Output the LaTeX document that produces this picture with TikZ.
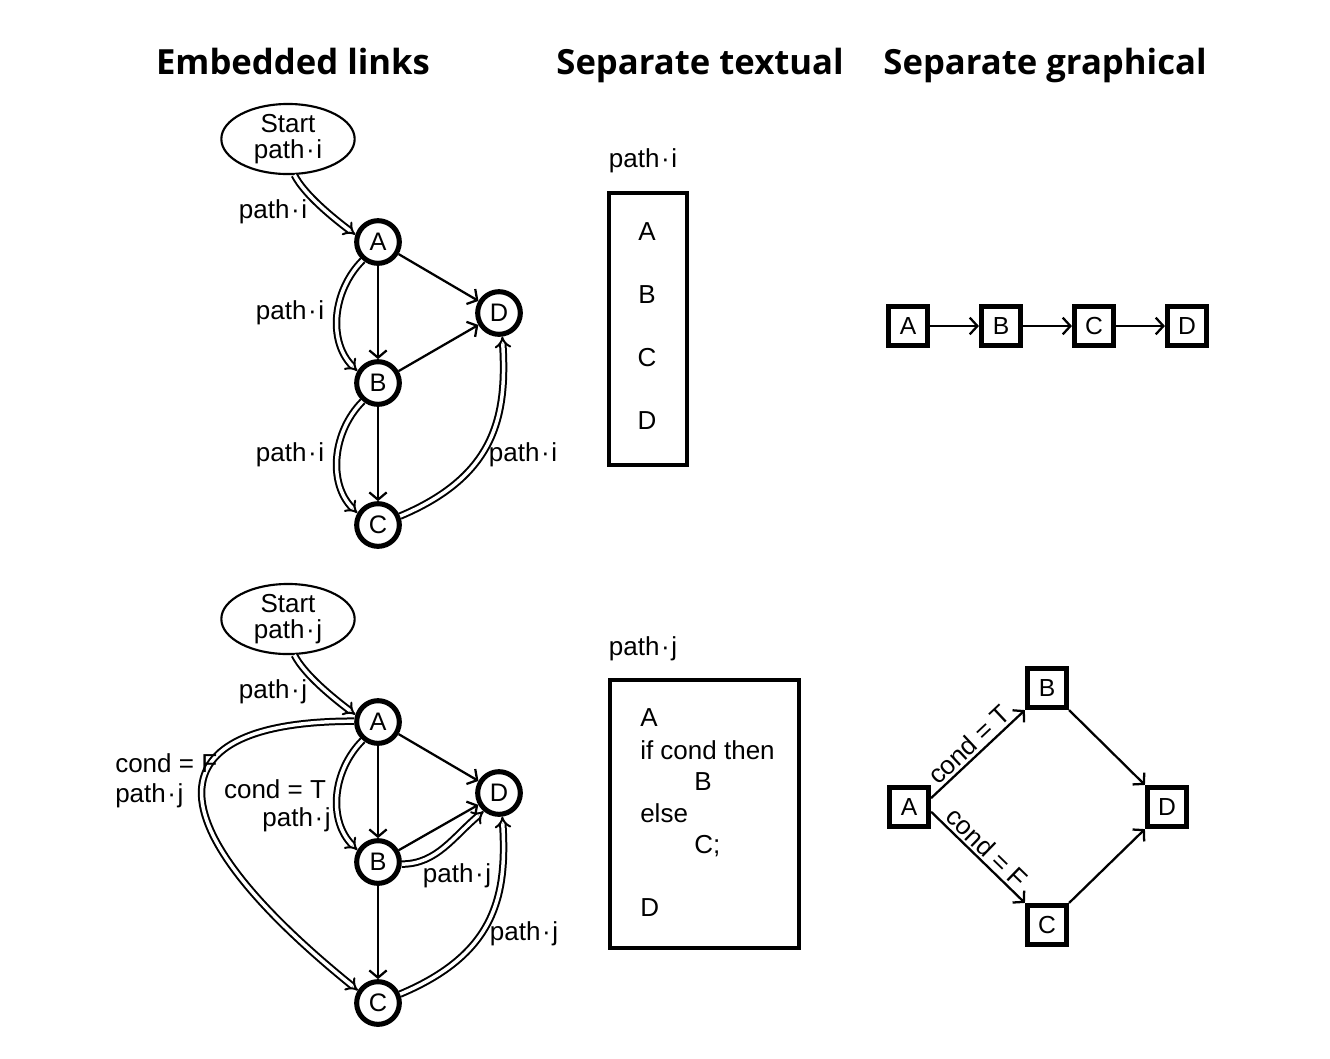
\documentclass[tikz,border=0pt]{standalone}
\usepackage{fontspec}
\setmainfont{Liberation Sans}
\newfontfamily\titlefont{Open Sans}
\usetikzlibrary{arrows.meta,shapes.geometric}
\newcommand{\pdot}{\kern1.2pt·\kern1.2pt}
\begin{document}
\begin{tikzpicture}[x=0.75pt,y=-0.75pt,
  ttl/.style={font=\titlefont\bfseries\fontsize{26}{30}\selectfont, inner sep=0pt, anchor=base},
  lbl/.style={font=\fontsize{19.5}{21}\selectfont, inner sep=0pt},
  vtx/.style={circle, draw, line width=3.8pt, minimum size=32pt, inner sep=0pt, font=\fontsize{19}{19}\selectfont},
  startnode/.style={ellipse, draw, line width=1.6pt, minimum width=100pt, minimum height=51pt, inner sep=0pt, align=center, font=\fontsize{19.5}{19.5}\selectfont},
  tarrow/.style={line width=1.7pt, -{Straight Barb[angle=100:8.5pt]}},
  dbl/.style={double=white, double distance=2.6pt, line width=1.5pt, -{Implies[scale=1.8]}},
  sqbox/.style={draw, line width=3.6pt, minimum size=29.5pt, inner sep=0pt, font=\fontsize{18.5}{18.5}\selectfont},
  tbox/.style={draw, line width=3pt, inner sep=0pt},
  gtip/.style={line width=1.7pt, -{Straight Barb[angle=95:8.5pt]}},
]
\useasboundingbox (0,0) rectangle (1330,1058);

% titles
\node[ttl] (t1) at (293,74) {Embedded links};
\node[ttl] (t2) at (700,74) {Separate textual};
\node[ttl] (t3) at (1045,74) {Separate graphical};

% ---------- top embedded graph ----------
\node[startnode] (S1) at (288,139) {Start\\path\pdot i};
\node[vtx] (A1) at (378,242) {A};
\node[vtx] (B1) at (378,383) {B};
\node[vtx] (C1) at (378,525) {C};
\node[vtx] (D1) at (499,313) {D};

\draw[tarrow] (A1) -- (D1);
\draw[tarrow] (A1) -- (B1);
\draw[tarrow] (B1) -- (D1);
\draw[tarrow] (B1) -- (C1);

\draw[dbl] (S1.280) .. controls +(10,20) and +(-20,-15) .. (A1.162);
\draw[dbl] (A1.230) .. controls +(-30,30) and +(-30,-30) .. (B1.150);
\draw[dbl] (B1.230) .. controls +(-30,30) and +(-30,-30) .. (C1.150);
\draw[dbl] (C1.22) .. controls +(95,-40) and +(5,80) .. (D1.278);

\node[lbl] (l1) at (273,212) {path\pdot i};
\node[lbl] (l2) at (290,313) {path\pdot i};
\node[lbl] (l3) at (290,455) {path\pdot i};
\node[lbl] (l4) at (523,455) {path\pdot i};

% ---------- bottom embedded graph ----------
\node[startnode] (S2) at (288,619) {Start\\path\pdot j};
\node[vtx] (A2) at (378,722) {A};
\node[vtx] (B2) at (378,862) {B};
\node[vtx] (C2) at (378,1003) {C};
\node[vtx] (D2) at (499,793) {D};

\draw[tarrow] (A2) -- (D2);
\draw[tarrow] (A2) -- (B2);
\draw[tarrow] (B2) -- (D2);
\draw[tarrow] (B2) -- (C2);

\draw[dbl] (S2.280) .. controls +(10,20) and +(-20,-15) .. (A2.162);
\draw[dbl] (A2.178) .. controls +(-200,0) and +(-210,-170) .. (C2.148);
\draw[dbl] (A2.230) .. controls +(-30,30) and +(-30,-30) .. (B2.150);
\draw[dbl] (B2.-5) .. controls +(35,0) and +(-30,25) .. (D2.230);
\draw[dbl] (C2.22) .. controls +(95,-40) and +(5,80) .. (D2.278);

\node[lbl] (m1) at (273,692) {path\pdot j};
\node[lbl, anchor=west] (m2) at (115,763) {cond = F};
\node[lbl, anchor=west] (m3) at (115,796) {path\pdot j};
\node[lbl] (m4) at (275,789) {cond = T};
\node[lbl, anchor=east] (m5) at (331,820) {path\pdot j};
\node[lbl] (m6) at (457,876) {path\pdot j};
\node[lbl] (m7) at (524,934) {path\pdot j};

% ---------- separate textual ----------
\node[lbl] (p1) at (643,161) {path\pdot i};
\node[tbox, minimum width=59pt, minimum height=204pt] (R1) at (648,328.5) {};
\node[lbl] (r1a) at (647,232) {A};
\node[lbl] (r1b) at (647,295) {B};
\node[lbl] (r1c) at (647,358) {C};
\node[lbl] (r1d) at (647,421) {D};

\node[lbl] (p2) at (643,649) {path\pdot j};
\node[tbox, minimum width=142pt, minimum height=201pt] (R2) at (704.5,813.5) {};
\node[lbl, anchor=west] (r2a) at (640,718) {A};
\node[lbl, anchor=west] (r2b) at (640,750) {if cond then};
\node[lbl, anchor=west] (r2c) at (694,782) {B};
\node[lbl, anchor=west] (r2d) at (640,813) {else};
\node[lbl, anchor=west] (r2e) at (694,846) {C;};
\node[lbl, anchor=west] (r2f) at (640,908) {D};

% ---------- separate graphical ----------
\node[sqbox] (GA) at (908,326) {A};
\node[sqbox] (GB) at (1001,326) {B};
\node[sqbox] (GC) at (1094,326) {C};
\node[sqbox] (GD) at (1187,326) {D};
\draw[gtip] (GA) -- (GB);
\draw[gtip] (GB) -- (GC);
\draw[gtip] (GC) -- (GD);

\node[sqbox] (HA) at (909,807) {A};
\node[sqbox] (HB) at (1047,688) {B};
\node[sqbox] (HC) at (1047,925) {C};
\node[sqbox] (HD) at (1167,807) {D};
\draw[gtip] (HA.22) -- node[lbl, sloped, above=2pt, pos=0.5] (cT) {cond = T} (HB.south west);
\draw[gtip] (HA.-12) -- node[lbl, sloped, above=2pt, pos=0.5] (cF) {cond = F} (HC.north west);
\draw[gtip] (HB.south east) -- (HD.north west);
\draw[gtip] (HC.north east) -- (HD.south west);
\end{tikzpicture}
\end{document}
